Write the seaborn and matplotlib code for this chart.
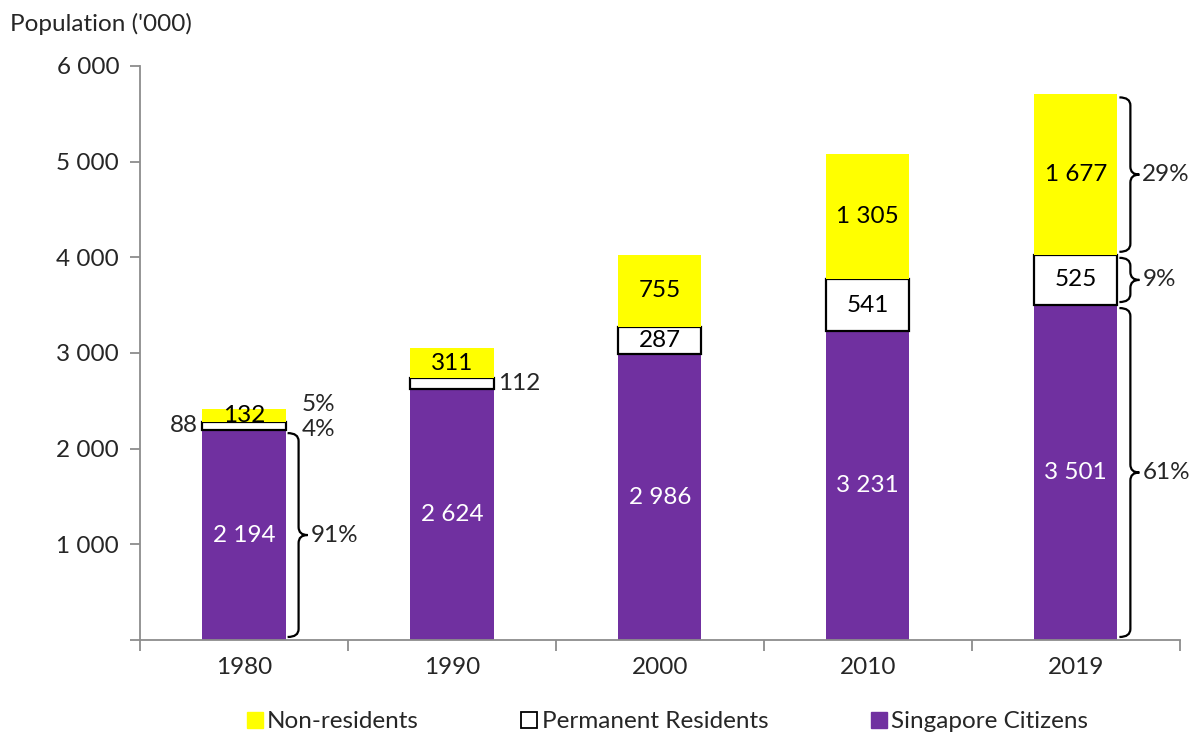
import matplotlib
matplotlib.use("Agg")
import matplotlib.pyplot as plt
from matplotlib.path import Path
from matplotlib.patches import PathPatch
from matplotlib.lines import Line2D
import seaborn as sns
import pandas as pd

years = ["1980", "1990", "2000", "2010", "2019"]
citizens = [2194, 2624, 2986, 3231, 3501]
permanent = [88, 112, 287, 541, 525]
non_residents = [132, 311, 755, 1305, 1677]
y_ticks = [0, 1000, 2000, 3000, 4000, 5000, 6000]

PURPLE = "#7030A0"
YELLOW = "#FFFF00"
FONT = ["Lato", "DejaVu Sans"]
FS = 17.5

sns.set_theme(style="white")
plt.rcParams["font.family"] = FONT

def fmt(v):
    return f"{v:,}".replace(",", " ")

df = pd.DataFrame({"year": years, "sc": citizens, "pr": permanent, "nr": non_residents})
df["pr_base"] = df["sc"]
df["nr_base"] = df["sc"] + df["pr"]

fig = plt.figure(figsize=(12.02, 7.38), dpi=100)
ax = fig.add_axes([0.1165, 0.1328, 0.865, 0.7778])

sns.barplot(data=df, x="year", y="sc", color=PURPLE, saturation=1, width=0.4,
            ax=ax, linewidth=0)
sns.barplot(data=df, x="year", y="pr", color="white", saturation=1, width=0.4,
            ax=ax, bottom=df["pr_base"].values, edgecolor="black", linewidth=1.6)
sns.barplot(data=df, x="year", y="nr", color=YELLOW, saturation=1, width=0.4,
            ax=ax, bottom=df["nr_base"].values, linewidth=0)

ax.set_ylim(0, 6000)
ax.set_xlim(-0.5, len(years) - 0.5)
ax.set_yticks(y_ticks)
ax.set_yticklabels(["" if t == 0 else fmt(t) for t in y_ticks], fontsize=FS)
ax.set_xticks(range(len(years)))
ax.set_xticklabels(years, fontsize=FS)
ax.set_xlabel("")
ax.set_ylabel("")

for s in ["top", "right"]:
    ax.spines[s].set_visible(False)
for s in ["left", "bottom"]:
    ax.spines[s].set_color("#8c8c8c")
    ax.spines[s].set_linewidth(1.3)

# y ticks outward; x ticks at category boundaries
ax.tick_params(axis="y", which="major", direction="out", length=7, width=1.3,
               color="#8c8c8c", left=True, pad=8)
ax.tick_params(axis="x", which="major", length=0, pad=12)
ax.set_xticks([i - 0.5 for i in range(len(years) + 1)], minor=True)
ax.tick_params(axis="x", which="minor", direction="out", length=8, width=1.3,
               color="#8c8c8c", bottom=True)

fig.text(0.008, 0.968, "Population ('000)", fontsize=FS, ha="left", va="center")

# value labels
lab = dict(fontsize=FS, ha="center", va="center")
for i in range(len(years)):
    sc, pr, nr = citizens[i], permanent[i], non_residents[i]
    ax.text(i, sc / 2, fmt(sc), color="white", **lab)
    ax.text(i, sc + pr + nr / 2, fmt(nr), color="black", **lab)
    if i >= 2:
        ax.text(i, sc + pr / 2, fmt(pr), color="black", **lab)

ax.text(-0.22, citizens[0] + permanent[0] / 2, fmt(permanent[0]),
        fontsize=FS, ha="right", va="center")
ax.text(1.22, citizens[1] + permanent[1] / 2, fmt(permanent[1]),
        fontsize=FS, ha="left", va="center")

px = 1 / 208.0          # one pixel in category units
py = 6000 / 574.0       # one pixel in value units


def brace(xc, y0, y1, label):
    x0 = xc + 0.2 + 2 * px
    xl = x0 + 11 * px
    xt = xl + 9 * px
    r = 8 * py
    ym = (y0 + y1) / 2
    verts = [
        (x0, y1), (xl, y1), (xl, y1 - r),
        (xl, ym + r), (xl, ym), (xt, ym),
        (xl, ym), (xl, ym - r),
        (xl, y0 + r), (xl, y0), (x0, y0),
    ]
    codes = [Path.MOVETO, Path.CURVE3, Path.CURVE3,
             Path.LINETO, Path.CURVE3, Path.CURVE3,
             Path.CURVE3, Path.CURVE3,
             Path.LINETO, Path.CURVE3, Path.CURVE3]
    ax.add_patch(PathPatch(Path(verts, codes), fill=False, edgecolor="black",
                           linewidth=1.6, clip_on=False, capstyle="butt"))
    ax.text(xt + 3 * px, ym, label, fontsize=FS, ha="left", va="center")


totals = [c + p + n for c, p, n in zip(citizens, permanent, non_residents)]
pct = lambda v, i: f"{round(100 * v / totals[i])}%"

# 1980
brace(0, 0 + 3 * py, citizens[0] - 3 * py, pct(citizens[0], 0))
ax.text(0.2 + 16 * px, 2460, pct(non_residents[0], 0), fontsize=FS, ha="left", va="center")
ax.text(0.2 + 16 * px, 2200, pct(permanent[0], 0), fontsize=FS, ha="left", va="center")

# 2019
i = 4
brace(i, 3 * py, citizens[i] - 3 * py, pct(citizens[i], i))
brace(i, citizens[i] + 3 * py, citizens[i] + permanent[i] - 3 * py, pct(permanent[i], i))
brace(i, citizens[i] + permanent[i] + 3 * py, totals[i] - 3 * py, pct(non_residents[i], i))

handles = [
    Line2D([], [], marker="s", linestyle="none", markersize=12,
           markerfacecolor=YELLOW, markeredgecolor=YELLOW),
    Line2D([], [], marker="s", linestyle="none", markersize=11,
           markerfacecolor="white", markeredgecolor="black", markeredgewidth=1.3),
    Line2D([], [], marker="s", linestyle="none", markersize=12,
           markerfacecolor=PURPLE, markeredgecolor=PURPLE),
]
fig.legend(handles, ["Non-residents", "Permanent Residents", "Singapore Citizens"],
           loc="center", bbox_to_anchor=(0.555, 0.022), ncol=3, frameon=False,
           fontsize=FS, handlelength=0.7, handletextpad=0.15, columnspacing=4.2)

fig.savefig("out.png", dpi=100)
